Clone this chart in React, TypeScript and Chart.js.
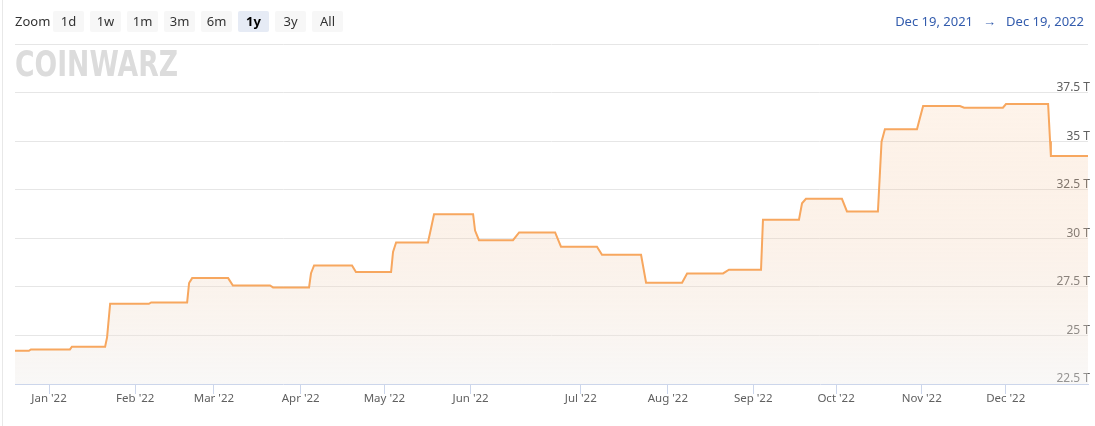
import React, { useEffect, useRef } from "react";
import { Chart, registerables } from "chart.js";

Chart.register(...registerables);

// Month tick labels and their ordinal positions (Highcharts-style ordinal axis, Jan 1 = 0)
const monthLabels = ["Jan '22", "Feb '22", "Mar '22", "Apr '22", "May '22", "Jun '22", "Jul '22", "Aug '22", "Sep '22", "Oct '22", "Nov '22", "Dec '22"];
const monthTicks = [0, 30.9, 59.1, 90.2, 120.2, 151.1, 190.6, 221.8, 252.4, 282.1, 312.8, 342.9];

// Network difficulty / hashrate series (ordinal x, value in T)
const hashX = [
  -12.2, -7.2, -6.5, 7.5, 8.2, 20.1, 20.8, 21.9, 35.8, 36.6, 49.5, 50.2, 51.3, 64.2, 65.9,
  79.2, 80.3, 93.2, 93.9, 95.0, 108.6, 110.0, 122.6, 123.3, 124.4, 135.8, 136.6, 138.0,
  152.0, 152.7, 154.1, 166.3, 168.5, 181.4, 183.5, 196.4, 198.2, 212.2, 214.0, 226.9, 228.7,
  241.6, 243.7, 255.2, 255.9, 268.8, 269.9, 271.3, 284.2, 286.0, 297.1, 298.4, 299.6, 311.1,
  311.8, 313.3, 326.5, 328.0, 341.9, 343.0, 358.1, 358.8, 359.1, 372.4,
];
const hashT = [
  24.21, 24.21, 24.28, 24.28, 24.42, 24.42, 24.9, 26.63, 26.63, 26.7, 26.7, 27.7, 27.95, 27.95, 27.57,
  27.57, 27.47, 27.47, 28.2, 28.6, 28.6, 28.26, 28.26, 29.3, 29.78, 29.78, 30.3, 31.24,
  31.24, 30.4, 29.9, 29.9, 30.3, 30.3, 29.57, 29.57, 29.15, 29.15, 27.71, 27.71, 28.19,
  28.19, 28.38, 28.38, 30.96, 30.96, 31.8, 32.03, 32.03, 31.38, 31.38, 34.97, 35.61, 35.61,
  36.0, 36.81, 36.81, 36.72, 36.72, 36.91, 36.91, 35.0, 34.24, 34.24,
];

const xMin = -12.2;
const xMax = 372.4;
const yMin = 22.5;
const yMax = 40;
const yStep = 2.5;

const zoomButtons = ["1d", "1w", "1m", "3m", "6m", "1y", "3y", "All"];
const selectedButton = "1y";
const rangeFrom = "Dec 19, 2021";
const rangeTo = "Dec 19, 2022";
const logoText = "COINWARZ";

const FONT = "'Noto Sans', 'Open Sans', sans-serif";

export default function App() {
  const ref = useRef<HTMLCanvasElement>(null);

  useEffect(() => {
    if (!ref.current) return;
    const logoPlugin = {
      id: "logo",
      beforeDatasetsDraw(chart: any) {
        const c = chart.ctx;
        c.save();
        c.font = "bold 36px 'DejaVu Sans'";
        const w = c.measureText(logoText).width;
        c.translate(15, 76);
        c.scale(163 / w, 1);
        c.fillStyle = "#dcdcdc";
        c.textBaseline = "alphabetic";
        c.fillText(logoText, 0, 0);
        c.restore();
      },
    };

    const chart = new Chart(ref.current, {
      type: "line",
      data: {
        datasets: [
          {
            data: hashX.map((x, i) => ({ x, y: hashT[i] })),
            borderColor: "#f7a75f",
            borderWidth: 2,
            pointRadius: 0,
            tension: 0,
            fill: "start",
            backgroundColor: (ctx: any) => {
              const { chart } = ctx;
              const area = chart.chartArea;
              if (!area) return "transparent";
              const g = chart.ctx.createLinearGradient(0, area.top, 0, area.bottom);
              g.addColorStop(0, "rgba(247,163,92,0.10)");
              g.addColorStop(1, "rgba(238,236,234,0.38)");
              return g;
            },
          },
        ],
      },
      options: {
        animation: false,
        responsive: false,
        maintainAspectRatio: false,
        layout: { padding: { left: 15, right: 7, top: 44, bottom: 0 } },
        plugins: { legend: { display: false }, tooltip: { enabled: false } },
        scales: {
          x: {
            type: "linear",
            min: xMin,
            max: xMax,
            afterBuildTicks: (s: any) => {
              s.ticks = monthTicks.map((v) => ({ value: v }));
            },
            afterFit: (s: any) => {
              s.height = 42;
            },
            ticks: {
              autoSkip: false,
              maxRotation: 0,
              padding: -2,
              color: "#606060",
              font: { family: FONT, size: 11.5 },
              callback: (_v: any, i: number) => monthLabels[i],
            },
            grid: {
              drawOnChartArea: false,
              drawTicks: true,
              tickLength: 10,
              color: "#ccd6eb",
            },
            border: { display: true, color: "#ccd6eb", width: 1 },
          },
          y: {
            type: "linear",
            position: "right",
            min: yMin,
            max: yMax,
            afterFit: (s: any) => {
              s.width = 0;
            },
            ticks: {
              stepSize: yStep,
              mirror: true,
              padding: 2,
              labelOffset: -5,
              color: "#606060",
              font: { family: FONT, size: 12 },
              callback: (v: any) => (v === yMax ? "" : `${v} T`),
            },
            grid: {
              drawTicks: false,
              color: (ctx: any) => (ctx.tick && ctx.tick.value === yMin ? "rgba(0,0,0,0)" : "#e6e6e6"),
            },
            border: { display: false },
          },
        },
      },
      plugins: [logoPlugin],
    });
    return () => chart.destroy();
  }, []);

  return (
    <div style={{ position: "absolute", left: 0, top: 0, width: 1095, height: 426, background: "#fff", fontFamily: FONT, overflow: "hidden" }}>
      <canvas ref={ref} width={1095} height={426} style={{ position: "absolute", left: 0, top: 0, width: 1095, height: 426 }} />
      <div style={{ position: "absolute", left: 2, top: 0, width: 1, height: 426, background: "#e8e8e8" }} />
      <div style={{ position: "absolute", left: 15, top: 11, height: 21, lineHeight: "21px", fontSize: 13, color: "#333" }}>Zoom</div>
      {zoomButtons.map((b, i) => (
        <div
          key={b}
          style={{
            position: "absolute",
            left: 53 + i * 37,
            top: 11,
            width: 31,
            height: 21,
            lineHeight: "21px",
            textAlign: "center",
            fontSize: 13,
            borderRadius: 2,
            background: b === selectedButton ? "#e6ebf5" : "#f7f7f7",
            color: b === selectedButton ? "#000" : "#333",
            fontWeight: b === selectedButton ? 700 : 400,
          }}
        >
          {b}
        </div>
      ))}
      <div style={{ position: "absolute", right: 11, top: 11, height: 21, lineHeight: "21px", fontSize: 13, color: "#335cad", display: "flex", gap: 10, whiteSpace: "pre" }}>
        <span>{rangeFrom}</span>
        <span>→</span>
        <span>{rangeTo}</span>
      </div>
    </div>
  );
}
